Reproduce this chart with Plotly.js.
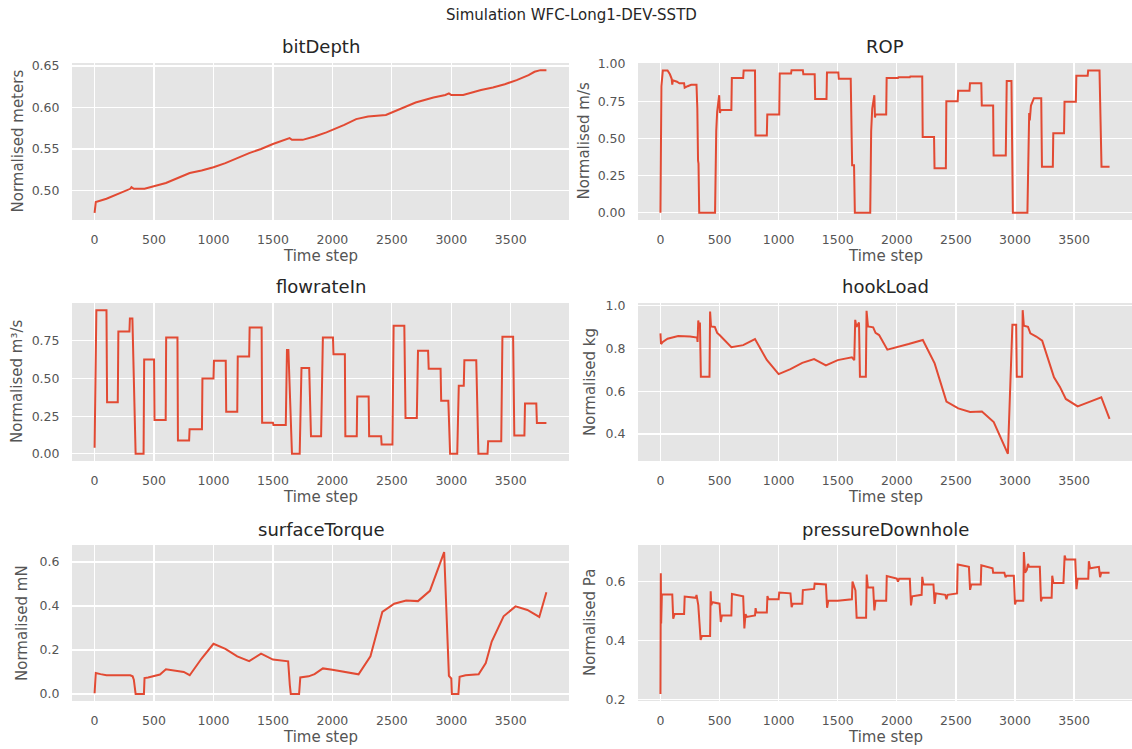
<!DOCTYPE html>
<html>
<head>
<meta charset="utf-8">
<script src="https://cdn.plot.ly/plotly-3.0.1.min.js"></script>
<style>html,body{margin:0;padding:0;background:#fff;}#chart{width:1132px;height:749px;}</style>
</head>
<body>
<div id="chart"></div>
<script>
// ---------- data (time step, normalised value) ----------
const suptitle = "Simulation WFC-Long1-DEV-SSTD";
const panelTitles = ["bitDepth", "ROP", "flowrateIn", "hookLoad", "surfaceTorque", "pressureDownhole"];
const yLabels = ["Normalised meters", "Normalised m/s", "Normalised m³/s", "Normalised kg", "Normalised mN", "Normalised Pa"];
const xLabel = "Time step";
const xTicks = [0, 500, 1000, 1500, 2000, 2500, 3000, 3500];

const bitDepth = [[0,0.473],[5,0.485],[10,0.486],[100,0.490],[200,0.496],[300,0.502],[310,0.504],[330,0.502],[420,0.502],[500,0.505],[600,0.509],[700,0.515],[800,0.521],[900,0.524],[1000,0.528],[1100,0.533],[1200,0.539],[1300,0.545],[1400,0.550],[1500,0.556],[1640,0.563],[1660,0.561],[1750,0.561],[1850,0.565],[1950,0.570],[2000,0.573],[2100,0.579],[2200,0.586],[2300,0.589],[2450,0.591],[2500,0.594],[2600,0.600],[2700,0.606],[2850,0.612],[2950,0.615],[2980,0.617],[3000,0.615],[3100,0.615],[3250,0.621],[3350,0.624],[3450,0.628],[3550,0.633],[3650,0.639],[3700,0.643],[3750,0.645],[3800,0.645]];

const rop = [[0,0.0],[3,0.5],[8,0.85],[20,0.955],[60,0.955],[80,0.93],[95,0.90],[100,0.86],[105,0.89],[140,0.88],[160,0.87],[200,0.87],[205,0.84],[230,0.85],[260,0.86],[305,0.86],[312,0.70],[318,0.35],[322,0.33],[328,0.0],[462,0.0],[472,0.55],[480,0.68],[497,0.79],[503,0.67],[510,0.69],[600,0.69],[604,0.905],[700,0.905],[704,0.955],[800,0.955],[804,0.52],[900,0.52],[904,0.66],[1005,0.66],[1009,0.935],[1105,0.935],[1109,0.958],[1205,0.958],[1209,0.93],[1305,0.93],[1309,0.765],[1405,0.765],[1409,0.942],[1505,0.942],[1509,0.90],[1610,0.90],[1618,0.50],[1622,0.32],[1638,0.32],[1645,0.0],[1775,0.0],[1783,0.55],[1792,0.70],[1810,0.79],[1815,0.64],[1820,0.66],[1910,0.66],[1914,0.905],[2010,0.905],[2014,0.91],[2110,0.91],[2114,0.915],[2215,0.915],[2219,0.51],[2315,0.51],[2319,0.30],[2415,0.30],[2419,0.75],[2515,0.75],[2519,0.82],[2615,0.82],[2619,0.87],[2715,0.87],[2719,0.72],[2815,0.72],[2819,0.385],[2922,0.385],[2930,0.885],[2970,0.885],[2982,0.0],[3105,0.0],[3115,0.60],[3120,0.67],[3125,0.62],[3135,0.72],[3160,0.77],[3222,0.77],[3228,0.31],[3320,0.31],[3324,0.535],[3415,0.535],[3419,0.745],[3515,0.745],[3519,0.92],[3615,0.92],[3619,0.955],[3715,0.955],[3732,0.31],[3800,0.31]];

const flowrateIn = [[0,0.04],[15,0.954],[100,0.954],[105,0.342],[195,0.342],[200,0.812],[293,0.812],[297,0.898],[318,0.898],[345,0.0],[412,0.0],[417,0.627],[500,0.627],[504,0.225],[598,0.225],[602,0.773],[697,0.773],[701,0.088],[795,0.088],[799,0.163],[903,0.163],[907,0.50],[1000,0.50],[1004,0.618],[1103,0.618],[1107,0.28],[1200,0.28],[1204,0.647],[1300,0.647],[1304,0.839],[1405,0.839],[1409,0.207],[1500,0.207],[1504,0.192],[1608,0.192],[1618,0.69],[1630,0.69],[1660,0.0],[1725,0.0],[1740,0.57],[1805,0.57],[1820,0.117],[1905,0.117],[1920,0.773],[2005,0.773],[2009,0.662],[2105,0.662],[2109,0.117],[2205,0.117],[2209,0.38],[2305,0.38],[2309,0.117],[2410,0.117],[2414,0.062],[2505,0.062],[2515,0.85],[2605,0.85],[2615,0.238],[2710,0.238],[2720,0.684],[2805,0.684],[2810,0.565],[2910,0.565],[2915,0.353],[2975,0.353],[2990,0.0],[3050,0.0],[3063,0.452],[3105,0.452],[3110,0.622],[3210,0.622],[3228,0.0],[3305,0.0],[3310,0.084],[3420,0.084],[3430,0.777],[3520,0.777],[3530,0.121],[3615,0.121],[3620,0.335],[3715,0.335],[3720,0.205],[3800,0.205]];

const hookLoad = [[0,0.87],[5,0.82],[20,0.83],[60,0.845],[150,0.858],[200,0.858],[250,0.855],[310,0.85],[314,0.83],[320,0.93],[326,0.90],[334,0.92],[342,0.668],[415,0.668],[420,0.972],[428,0.902],[460,0.90],[480,0.872],[500,0.862],[600,0.805],[700,0.815],[800,0.843],[900,0.746],[1000,0.68],[1100,0.703],[1200,0.732],[1300,0.75],[1400,0.72],[1500,0.745],[1620,0.758],[1640,0.745],[1648,0.933],[1658,0.90],[1680,0.92],[1688,0.668],[1738,0.668],[1744,0.975],[1756,0.902],[1800,0.898],[1820,0.872],[1850,0.862],[1920,0.794],[2000,0.805],[2100,0.82],[2220,0.839],[2320,0.73],[2420,0.552],[2520,0.52],[2620,0.503],[2720,0.505],[2820,0.456],[2940,0.308],[2978,0.91],[3010,0.91],[3015,0.668],[3060,0.668],[3065,0.978],[3075,0.905],[3110,0.90],[3130,0.87],[3180,0.855],[3230,0.836],[3330,0.665],[3380,0.62],[3430,0.564],[3530,0.529],[3630,0.55],[3730,0.572],[3800,0.471]];

const surfaceTorque = [[0,0.003],[10,0.095],[50,0.09],[100,0.085],[300,0.085],[320,0.08],[330,0.065],[345,0.0],[415,0.0],[420,0.072],[450,0.075],[500,0.08],[550,0.088],[600,0.112],[700,0.105],[750,0.1],[800,0.085],[900,0.161],[1000,0.228],[1100,0.205],[1200,0.171],[1300,0.149],[1400,0.183],[1500,0.156],[1628,0.148],[1635,0.07],[1642,0.04],[1650,0.0],[1720,0.0],[1730,0.075],[1800,0.08],[1850,0.09],[1920,0.116],[2000,0.11],[2100,0.1],[2220,0.089],[2320,0.171],[2420,0.373],[2520,0.41],[2620,0.425],[2720,0.422],[2820,0.469],[2940,0.645],[2980,0.082],[3000,0.07],[3005,0.0],[3060,0.0],[3070,0.078],[3120,0.085],[3230,0.089],[3290,0.14],[3340,0.238],[3440,0.353],[3540,0.398],[3640,0.382],[3740,0.35],[3800,0.462]];

const pressureDownhole = [[0,0.219],[3,0.628],[6,0.458],[12,0.556],[100,0.556],[108,0.474],[120,0.49],[200,0.49],[205,0.549],[300,0.545],[305,0.555],[320,0.52],[340,0.402],[350,0.415],[420,0.415],[425,0.567],[430,0.52],[440,0.53],[500,0.525],[510,0.463],[520,0.485],[600,0.485],[605,0.558],[700,0.55],[710,0.441],[720,0.49],[730,0.48],[800,0.485],[805,0.51],[812,0.495],[900,0.495],[905,0.551],[915,0.54],[1000,0.54],[1005,0.563],[1100,0.56],[1110,0.513],[1120,0.525],[1200,0.525],[1205,0.571],[1300,0.575],[1305,0.593],[1400,0.59],[1410,0.511],[1420,0.535],[1500,0.535],[1620,0.54],[1625,0.6],[1640,0.58],[1650,0.57],[1660,0.477],[1740,0.477],[1745,0.624],[1755,0.58],[1800,0.58],[1810,0.502],[1820,0.535],[1910,0.535],[1915,0.619],[2000,0.61],[2010,0.6],[2020,0.61],[2110,0.61],[2120,0.519],[2130,0.55],[2210,0.555],[2215,0.616],[2225,0.59],[2310,0.59],[2320,0.524],[2330,0.56],[2410,0.555],[2420,0.54],[2430,0.555],[2510,0.56],[2515,0.658],[2610,0.65],[2620,0.572],[2630,0.59],[2710,0.59],[2715,0.655],[2810,0.645],[2815,0.63],[2910,0.63],[2920,0.615],[2930,0.62],[2990,0.62],[3000,0.522],[3010,0.535],[3070,0.535],[3075,0.70],[3085,0.63],[3100,0.64],[3110,0.66],[3120,0.65],[3210,0.65],[3220,0.533],[3230,0.545],[3310,0.545],[3315,0.62],[3325,0.595],[3410,0.595],[3420,0.688],[3430,0.675],[3510,0.675],[3520,0.574],[3530,0.61],[3620,0.61],[3625,0.669],[3635,0.645],[3710,0.65],[3720,0.615],[3730,0.63],[3800,0.63]];

const yTicks = [
  [0.50, 0.55, 0.60, 0.65],
  [0.00, 0.25, 0.50, 0.75, 1.00],
  [0.00, 0.25, 0.50, 0.75],
  [0.4, 0.6, 0.8, 1.0],
  [0.0, 0.2, 0.4, 0.6],
  [0.2, 0.4, 0.6]
];
const yTickFormats = [".2f", ".2f", ".2f", ".1f", ".1f", ".1f"];

// ---------- layout geometry (pixels) ----------
const W = 1132, H = 749;
const FONT = "DejaVu Sans, Verdana, sans-serif";
const colsPx = [[72, 569], [638, 1132]];
const rowsPx = [[63, 220], [303, 461], [545, 701]];
const yLabelX = [17, 583, 17, 590, 22, 590];
const series = [bitDepth, rop, flowrateIn, hookLoad, surfaceTorque, pressureDownhole];

const traces = [];
const layout = {
  width: W, height: H,
  margin: {l: 0, r: 0, t: 0, b: 0, pad: 0},
  paper_bgcolor: "#ffffff",
  plot_bgcolor: "#E5E5E5",
  showlegend: false,
  font: {family: FONT, color: "#555555"},
  annotations: []
};

function autoRange(vals) {
  const mn = Math.min(...vals), mx = Math.max(...vals);
  const pad = (mx - mn) * 0.05;
  return [mn - pad, mx + pad];
}
const px2x = p => p / W;
const px2y = p => 1 - p / H;

series.forEach((s, i) => {
  const row = Math.floor(i / 2), col = i % 2;
  const n = i + 1;
  const xs = s.map(d => d[0]), ys = s.map(d => d[1]);
  traces.push({
    x: xs, y: ys, type: "scatter", mode: "lines",
    xaxis: "x" + n, yaxis: "y" + n,
    line: {color: "#E24A33", width: 2},
    hoverinfo: "skip"
  });
  const xr = autoRange(xs), yr = autoRange(ys);
  const common = {
    showgrid: true, gridcolor: "#ffffff", gridwidth: 1.2,
    zeroline: false, showline: false,
    ticks: "outside", tickcolor: "rgba(0,0,0,0)",
    tickfont: {family: FONT, size: 12.5, color: "#555555"},
    fixedrange: true
  };
  layout["xaxis" + n] = Object.assign({}, common, {
    domain: [px2x(colsPx[col][0]), px2x(colsPx[col][1])],
    anchor: "y" + n,
    range: xr,
    tickmode: "array", tickvals: xTicks, ticktext: xTicks.map(String),
    ticklen: 8
  });
  layout["yaxis" + n] = Object.assign({}, common, {
    domain: [px2y(rowsPx[row][1]), px2y(rowsPx[row][0])],
    anchor: "x" + n,
    range: yr,
    tickmode: "array", tickvals: yTicks[i], tickformat: yTickFormats[i],
    ticklen: 9
  });
  const cx = (colsPx[col][0] + colsPx[col][1]) / 2;
  const cy = (rowsPx[row][0] + rowsPx[row][1]) / 2;
  // panel title
  layout.annotations.push({
    text: panelTitles[i], xref: "paper", yref: "paper",
    x: px2x(cx), y: px2y(rowsPx[row][0] - 16), xanchor: "center", yanchor: "middle",
    showarrow: false, font: {family: FONT, size: 18, color: "#262626"}
  });
  // x label
  layout.annotations.push({
    text: xLabel, xref: "paper", yref: "paper",
    x: px2x(cx), y: px2y(rowsPx[row][1] + 36), xanchor: "center", yanchor: "middle",
    showarrow: false, font: {family: FONT, size: 15, color: "#555555"}
  });
  // y label
  layout.annotations.push({
    text: yLabels[i], xref: "paper", yref: "paper",
    x: px2x(yLabelX[i]), y: px2y(cy), xanchor: "center", yanchor: "middle",
    textangle: -90,
    showarrow: false, font: {family: FONT, size: 15, color: "#555555"}
  });
});

layout.annotations.push({
  text: suptitle, xref: "paper", yref: "paper",
  x: px2x(571), y: px2y(15), xanchor: "center", yanchor: "middle",
  showarrow: false, font: {family: FONT, size: 15, color: "#262626"}
});

Plotly.newPlot("chart", traces, layout, {staticPlot: true, displayModeBar: false});
</script>
</body>
</html>
